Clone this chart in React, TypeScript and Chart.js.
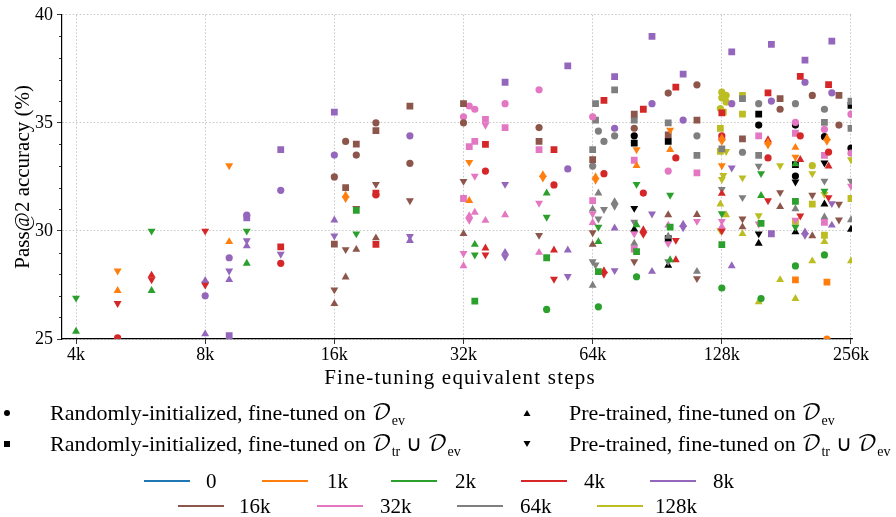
import React, { useEffect, useRef } from "react";
import { Chart, registerables } from "chart.js";
Chart.register(...registerables);

type Pt = [number, number, string];

// x in thousands of fine-tuning equivalent steps, y = Pass@2 accuracy (%)
const xTickValues = [4, 8, 16, 32, 64, 128, 256];
const xTickLabels = ["4k", "8k", "16k", "32k", "64k", "128k", "256k"];
const yTickValues = [25, 30, 35, 40];
const xMin = 3.71;
const xMax = 257.4;
const yMin = 25;
const yMax = 40;
const xTitle = "Fine-tuning equivalent steps";
const yTitle = "Pass@2 accuracy (%)";

const seriesLabels = ["0", "1k", "2k", "4k", "8k", "16k", "32k", "64k", "128k"];
const seriesColors = ["#1f77b4", "#ff7f0e", "#2ca02c", "#d62728", "#9467bd", "#8c564b", "#e377c2", "#7f7f7f", "#bcbd22"];

const pts0: Pt[] = [];
const pts1k: Pt[] = [
  [5, 28.15, "v"], [5, 27.24, "^"], [9.1, 33.02, "v"], [9.1, 29.5, "^"], [17, 31.65, "^"], [17, 31.5, "v"],
  [33, 33.18, "v"], [33, 31.4, "^"], [49, 32.6, "^"], [49, 32.45, "v"], [65, 32.5, "^"], [65, 32.35, "v"],
  [81, 33.76, "v"], [81, 33.02, "^"], [97, 34.67, "v"], [97, 33.76, "^"], [128, 34.3, "^"], [128, 34.15, "v"],
  [164, 34.1, "^"], [164, 33.98, "v"], [190, 33.86, "^"], [190, 33.42, "v"], [225, 34.3, "^"], [225, 34.15, "v"],
  [128, 33.02, "v"], [190, 27.74, "s"], [225, 27.63, "s"], [225, 25.0, "o"],
];
const pts2k: Pt[] = [
  [4, 26.9, "v"], [4, 25.35, "^"], [6, 30.0, "v"], [6, 27.24, "^"], [10, 30.0, "v"], [10, 28.5, "^"],
  [18, 30.95, "s"], [18, 29.87, "v"], [50, 31.75, "^"], [50, 30.64, "v"], [34, 29.37, "^"], [34, 28.89, "v"],
  [50, 28.76, "s"], [34, 26.75, "s"], [50, 26.37, "o"], [66, 30.18, "v"], [66, 29.5, "^"], [66, 28.12, "s"],
  [66, 26.49, "o"], [81, 32.16, "v"], [81, 30.28, "^"], [81, 29.04, "s"], [81, 27.88, "o"], [97, 31.66, "v"],
  [97, 30.18, "s"], [97, 28.66, "^"], [128, 30.8, "v"], [128, 29.37, "s"], [128, 27.36, "o"], [158, 32.66, "v"],
  [158, 31.63, "^"], [158, 30.35, "s"], [158, 26.87, "o"], [190, 33.1, "^"], [190, 31.37, "s"], [190, 30.18, "v"],
  [190, 28.38, "o"], [222, 31.85, "v"], [222, 28.89, "o"],
];
const pts4k: Pt[] = [
  [5, 25.05, "o"], [5, 26.65, "v"], [6, 27.95, "^"], [6, 27.75, "v"], [8, 30.0, "v"], [8, 27.5, "v"],
  [12, 29.26, "s"], [12, 28.5, "o"], [20, 31.67, "o"], [20, 31.75, "s"], [20, 29.38, "s"],
  [36, 34.0, "s"], [36, 32.77, "o"], [36, 29.2, "^"], [36, 28.9, "v"], [52, 33.76, "s"], [52, 32.13, "o"],
  [52, 29.11, "^"], [52, 27.77, "v"], [68, 36.04, "s"], [68, 32.65, "o"], [68, 28.15, "^"], [68, 28.0, "v"],
  [84, 35.63, "s"], [84, 31.75, "o"], [84, 30.05, "^"], [84, 29.85, "v"], [100, 36.65, "s"], [100, 33.38, "o"],
  [100, 29.57, "v"], [100, 28.66, "^"], [128, 35.46, "s"], [128, 34.4, "o"], [128, 31.73, "^"], [128, 30.0, "v"],
  [164, 36.39, "s"], [164, 34.21, "^"], [164, 33.38, "o"], [164, 31.4, "v"], [195, 37.15, "s"], [195, 34.4, "o"],
  [195, 33.3, "^"], [195, 30.7, "v"], [227, 36.77, "s"], [227, 33.65, "o"], [227, 33.0, "^"], [227, 31.55, "v"],
];
const pts8k: Pt[] = [
  [8, 27.7, "^"], [8, 27.55, "v"], [8, 27.0, "o"], [8, 25.23, "^"], [9.1, 25.15, "s"], [9.1, 28.76, "o"],
  [9.1, 28.15, "v"], [9.1, 27.74, "^"], [10, 30.73, "o"], [10, 30.6, "s"], [10, 29.55, "v"], [10, 29.3, "^"],
  [12, 33.76, "s"], [12, 31.88, "o"], [12, 28.93, "v"], [16, 35.5, "s"], [16, 33.51, "o"], [16, 30.5, "^"],
  [16, 29.77, "v"], [24, 34.4, "o"], [24, 29.75, "v"], [24, 29.55, "^"], [40, 36.88, "s"], [40, 32.16, "v"],
  [40, 29.0, "^"], [40, 28.8, "v"], [56, 37.64, "s"], [56, 32.87, "o"], [56, 29.11, "^"], [56, 27.9, "v"],
  [72, 37.14, "s"], [72, 34.75, "o"], [72, 30.13, "^"], [72, 28.17, "v"], [88, 39.0, "s"], [88, 35.89, "o"],
  [88, 30.79, "v"], [88, 28.12, "^"], [104, 37.26, "s"], [104, 35.13, "o"], [104, 30.3, "^"], [104, 30.15, "v"],
  [135, 38.28, "s"], [135, 35.89, "o"], [135, 32.92, "v"], [135, 28.38, "^"], [167, 38.63, "s"], [167, 36.01, "o"],
  [167, 29.87, "s"], [200, 37.9, "s"], [200, 36.88, "o"], [200, 29.95, "^"], [200, 29.8, "v"], [231, 38.78, "s"],
  [231, 36.39, "o"], [231, 31.27, "v"], [231, 30.26, "^"],
];
const pts16k: Pt[] = [
  [16, 32.5, "o"], [16, 29.39, "s"], [16, 27.28, "v"], [16, 26.63, "^"], [17, 34.14, "o"], [17, 32.0, "s"],
  [17, 29.14, "v"], [17, 27.86, "^"], [18, 34.02, "s"], [18, 33.51, "o"], [18, 31.05, "v"], [18, 29.14, "^"],
  [20, 35.0, "o"], [20, 34.64, "s"], [20, 32.16, "v"], [20, 29.67, "^"], [24, 35.77, "s"], [24, 33.13, "o"],
  [24, 31.4, "v"], [32, 35.89, "s"], [32, 35.0, "o"], [32, 32.3, "v"], [32, 29.87, "^"], [48, 34.78, "o"],
  [48, 34.14, "s"], [48, 29.8, "v"], [64, 33.3, "s"], [64, 29.92, "v"], [64, 29.37, "^"], [80, 35.4, "s"],
  [80, 34.75, "o"], [80, 28.58, "v"], [96, 36.38, "o"], [96, 34.44, "s"], [96, 30.74, "^"], [112, 36.76, "o"],
  [112, 35.13, "s"], [112, 30.75, "^"], [112, 27.8, "v"], [143, 34.26, "s"], [143, 30.56, "v"], [143, 30.18, "^"],
  [175, 36.12, "s"], [175, 35.63, "o"], [175, 31.78, "v"], [175, 31.12, "^"], [208, 36.27, "o"], [208, 31.66, "v"],
  [208, 29.77, "^"], [240, 36.27, "s"], [240, 34.9, "o"], [240, 31.24, "v"], [240, 30.51, "v"],
];
const pts32k: Pt[] = [
  [32, 35.28, "o"], [32, 31.5, "s"], [32, 28.96, "v"], [32, 28.38, "^"], [33, 35.78, "o"], [34, 35.63, "o"],
  [33, 33.9, "s"], [34, 34.14, "s"], [34, 32.54, "v"], [33, 30.7, "^"], [33, 30.5, "v"], [34, 30.86, "^"],
  [36, 35.16, "s"], [36, 34.9, "v"], [36, 30.48, "^"], [40, 35.89, "o"], [40, 34.78, "s"], [40, 30.74, "^"],
  [48, 36.53, "o"], [48, 33.76, "s"], [48, 31.29, "v"], [48, 29.0, "^"], [64, 35.28, "o"], [64, 31.4, "s"],
  [64, 30.79, "v"], [64, 30.38, "^"], [80, 33.27, "s"], [80, 29.87, "v"], [80, 29.16, "s"], [96, 32.77, "o"],
  [96, 30.26, "^"], [96, 29.42, "v"], [112, 32.69, "s"], [112, 30.45, "v"], [128, 34.26, "o"], [128, 30.44, "v"],
  [128, 30.2, "^"], [156, 34.4, "s"], [156, 30.33, "v"], [190, 35.02, "o"], [190, 34.52, "s"], [190, 30.5, "v"],
  [222, 34.7, "o"], [222, 33.5, "s"], [222, 30.4, "s"], [256, 35.4, "o"], [256, 33.6, "o"], [256, 32.08, "v"],
];
const pts64k: Pt[] = [
  [65, 35.89, "s"], [65, 35.13, "s"], [66, 34.62, "o"], [68, 34.14, "o"], [64, 33.76, "s"], [64, 33.0, "o"],
  [66, 31.75, "^"], [64, 31.0, "^"], [68, 31.0, "v"], [66, 30.56, "v"], [64, 28.58, "v"], [65, 28.43, "v"],
  [64, 27.48, "^"], [72, 36.53, "s"], [72, 34.4, "o"], [72, 31.35, "^"], [72, 31.15, "v"], [80, 35.13, "s"],
  [80, 30.41, "v"], [80, 29.42, "^"], [96, 35.0, "s"], [96, 29.75, "^"], [96, 28.58, "v"], [112, 34.4, "o"],
  [112, 33.5, "s"], [112, 28.12, "^"], [143, 36.12, "s"], [143, 33.64, "o"], [143, 31.55, "v"], [128, 33.8, "s"],
  [128, 31.93, "v"], [156, 35.89, "o"], [156, 33.5, "s"], [156, 33.0, "v"], [190, 35.89, "o"], [190, 31.02, "^"],
  [222, 35.63, "o"], [222, 35.02, "s"], [222, 32.31, "v"], [222, 30.64, "^"], [256, 36.0, "s"], [256, 34.75, "s"],
  [256, 32.31, "v"], [256, 30.51, "^"],
];
const pts128k: Pt[] = [
  [128, 36.42, "o"], [131, 36.27, "o"], [128, 36.16, "o"], [131, 35.97, "o"], [127, 35.66, "o"], [129, 35.5, "s"],
  [143, 36.27, "s"], [143, 35.4, "s"], [127, 34.75, "s"], [127, 33.68, "s"], [131, 33.68, "v"], [129, 32.57, "v"],
  [128, 32.39, "v"], [143, 32.46, "v"], [127, 31.24, "^"], [131, 30.74, "^"], [127, 30.03, "v"], [143, 29.87, "^"],
  [156, 30.71, "v"], [156, 26.72, "^"], [175, 33.02, "v"], [175, 27.74, "^"], [190, 30.44, "s"], [190, 26.87, "^"],
  [208, 33.02, "o"], [208, 32.66, "v"], [208, 31.24, "s"], [208, 28.61, "^"], [222, 31.7, "v"], [222, 29.8, "s"],
  [222, 29.5, "^"], [256, 33.3, "v"], [256, 31.5, "s"], [256, 28.61, "^"],
];
const ptsBlack: Pt[] = [
  [80, 34.4, "o"], [80, 34.06, "s"], [80, 31.05, "v"], [80, 30.07, "^"], [96, 34.14, "s"], [96, 29.64, "s"],
  [96, 28.4, "^"], [156, 35.4, "s"], [156, 34.9, "o"], [156, 29.87, "v"], [156, 29.42, "^"], [190, 34.9, "o"],
  [190, 33.07, "s"], [190, 32.54, "o"], [190, 32.27, "v"], [190, 29.95, "^"], [222, 34.36, "o"], [222, 33.15, "v"],
  [222, 31.24, "^"], [256, 35.81, "s"], [256, 33.83, "o"], [256, 30.07, "^"],
];

const allSeries: Pt[][] = [pts0, pts1k, pts2k, pts4k, pts8k, pts16k, pts32k, pts64k, pts128k, ptsBlack];
const allColors = [...seriesColors, "#000000"];

const markerCodes = ["o", "s", "^", "v"];
const SERIF = "'Liberation Serif', 'Times New Roman', serif";
const MATH = "'DejaVu Math TeX Gyre', 'Latin Modern Math', 'STIX Two Math', 'Noto Sans Math', 'DejaVu Serif', serif";

function styleFor(m: string) {
  if (m === "o") return { pointStyle: "circle", radius: 3.6, rotation: 0 };
  if (m === "s") return { pointStyle: "rect", radius: 4.8, rotation: 0 };
  if (m === "^") return { pointStyle: "triangle", radius: 4.6, rotation: 0 };
  return { pointStyle: "triangle", radius: 4.6, rotation: 180 };
}

const minorTicks = {
  id: "minorTicks",
  afterDraw(chart: any) {
    const ys = chart.scales.y;
    const ctx = chart.ctx;
    const left = chart.chartArea.left;
    ctx.save();
    ctx.strokeStyle = "#000";
    ctx.lineWidth = 0.8;
    for (let v = Math.ceil(ys.min); v <= ys.max; v++) {
      if (v % 5 === 0) continue;
      const py = Math.round(ys.getPixelForValue(v)) + 0.5;
      ctx.beginPath();
      ctx.moveTo(left - 3, py);
      ctx.lineTo(left, py);
      ctx.stroke();
    }
    ctx.restore();
  },
};

const D = () => <span style={{ fontFamily: MATH, fontStyle: "normal" }}>𝒟</span>;
const Sub = ({ t }: { t: string }) => (
  <span style={{ fontSize: 14, position: "relative", top: 5, fontFamily: SERIF, letterSpacing: 0 }}>{t}</span>
);

const markerLegend = [
  { m: "o", x: 7, y: 413, tx: 50, label: <>Randomly-initialized, fine-tuned on <D /><Sub t="ev" /></> },
  { m: "^", x: 527, y: 413, tx: 569, label: <>Pre-trained, fine-tuned on <D /><Sub t="ev" /></> },
  { m: "s", x: 7, y: 444, tx: 50, label: <>Randomly-initialized, fine-tuned on <D /><Sub t="tr" /> ∪ <D /><Sub t="ev" /></> },
  { m: "v", x: 527, y: 444, tx: 569, label: <>Pre-trained, fine-tuned on <D /><Sub t="tr" /> ∪ <D /><Sub t="ev" /></> },
];

const colorLegendPos = [
  { lx: 144, y: 481, tx: 206 }, { lx: 262, y: 481, tx: 327 }, { lx: 391, y: 481, tx: 455 },
  { lx: 521, y: 481, tx: 584 }, { lx: 650, y: 481, tx: 713 },
  { lx: 178, y: 506, tx: 239 }, { lx: 317, y: 506, tx: 380 }, { lx: 457, y: 506, tx: 520 }, { lx: 597, y: 506, tx: 655 },
];

function MarkerIcon({ m }: { m: string }) {
  const s = 8;
  let shape;
  if (m === "o") shape = <circle cx={4} cy={4} r={3} fill="#000" />;
  else if (m === "s") shape = <rect x={1} y={1} width={6} height={6} fill="#000" />;
  else if (m === "^") shape = <polygon points="4,1 7.5,7 0.5,7" fill="#000" />;
  else shape = <polygon points="0.5,1 7.5,1 4,7" fill="#000" />;
  return <svg width={s} height={s}>{shape}</svg>;
}

export default function App() {
  const ref = useRef<HTMLCanvasElement>(null);
  useEffect(() => {
    if (!ref.current) return;
    const datasets: any[] = [];
    allSeries.forEach((pts, si) => {
      markerCodes.forEach((m) => {
        const sub = pts.filter((p) => p[2] === m);
        if (!sub.length) return;
        const st = styleFor(m);
        datasets.push({
          data: sub.map((p) => ({ x: p[0], y: p[1] })),
          backgroundColor: allColors[si],
          borderWidth: 0,
          pointStyle: st.pointStyle,
          pointRadius: st.radius,
          pointRotation: st.rotation,
          pointHoverRadius: st.radius,
          clip: 0,
        });
      });
    });
    const tickFont = { family: SERIF, size: 18 };
    const chart = new Chart(ref.current, {
      type: "scatter",
      data: { datasets },
      options: {
        animation: false,
        responsive: false,
        devicePixelRatio: 1,
        layout: { padding: { left: 0, right: 44, top: 10, bottom: 128 } },
        plugins: { legend: { display: false }, tooltip: { enabled: false } },
        scales: {
          x: {
            type: "logarithmic",
            min: xMin,
            max: xMax,
            afterBuildTicks: (s: any) => {
              s.ticks = xTickValues.map((v) => ({ value: v }));
            },
            afterFit: (s: any) => {
              s.height = 50;
            },
            ticks: {
              color: "#000",
              font: tickFont,
              padding: 0,
              maxRotation: 0,
              autoSkip: false,
              callback: (v: any) => {
                const i = xTickValues.indexOf(Number(v));
                return i >= 0 ? xTickLabels[i] : "";
              },
            },
            grid: { color: "rgba(0,0,0,0.28)", lineWidth: 0.8, tickColor: "#000", tickLength: 5, tickWidth: 0.8 },
            border: { display: true, color: "#000", width: 1.2, dash: [1.5, 2] },
            title: { display: false },
          },
          y: {
            min: yMin,
            max: yMax,
            afterBuildTicks: (s: any) => {
              s.ticks = yTickValues.map((v) => ({ value: v }));
            },
            afterFit: (s: any) => {
              s.width = 62;
            },
            ticks: { color: "#000", font: tickFont, padding: 4 },
            grid: { color: "rgba(0,0,0,0.28)", lineWidth: 0.8, tickColor: "#000", tickLength: 5, tickWidth: 0.8 },
            border: { display: true, color: "#000", width: 1.2, dash: [1.5, 2] },
            title: { display: true, text: yTitle, color: "#000", font: { family: SERIF, size: 21 }, padding: { top: 11, bottom: 0 } },
          },
        },
      },
      plugins: [minorTicks],
    } as any);
    return () => chart.destroy();
  }, []);

  const textStyle = (left: number, y: number): React.CSSProperties => ({
    position: "absolute", left, top: y - 14, height: 28, lineHeight: "28px", fontFamily: SERIF,
    fontSize: 22, whiteSpace: "nowrap", color: "#000",
  });

  return (
    <div style={{ position: "absolute", left: 0, top: 0, width: 896, height: 517, background: "#fff", overflow: "hidden" }}>
      <canvas ref={ref} width={896} height={517} style={{ position: "absolute", left: 0, top: 0 }} />
      <div style={{ position: "absolute", left: 62, width: 796, top: 363, height: 28, lineHeight: "28px", textAlign: "center", fontFamily: SERIF, fontSize: 21, letterSpacing: 1.2, whiteSpace: "nowrap", color: "#000" }}>
        {xTitle}
      </div>
      {markerLegend.map((it, i) => (
        <React.Fragment key={"m" + i}>
          <div style={{ position: "absolute", left: it.x - 4, top: it.y - 4, width: 8, height: 8, lineHeight: 0 }}>
            <MarkerIcon m={it.m} />
          </div>
          <div style={textStyle(it.tx, it.y)}>{it.label}</div>
        </React.Fragment>
      ))}
      {seriesLabels.map((lab, i) => {
        const p = colorLegendPos[i];
        return (
          <React.Fragment key={"c" + i}>
            <div style={{ position: "absolute", left: p.lx, top: p.y - 1, width: 46, height: 2, background: seriesColors[i] }} />
            <div style={{ ...textStyle(p.tx, p.y), fontSize: 21 }}>{lab}</div>
          </React.Fragment>
        );
      })}
    </div>
  );
}
